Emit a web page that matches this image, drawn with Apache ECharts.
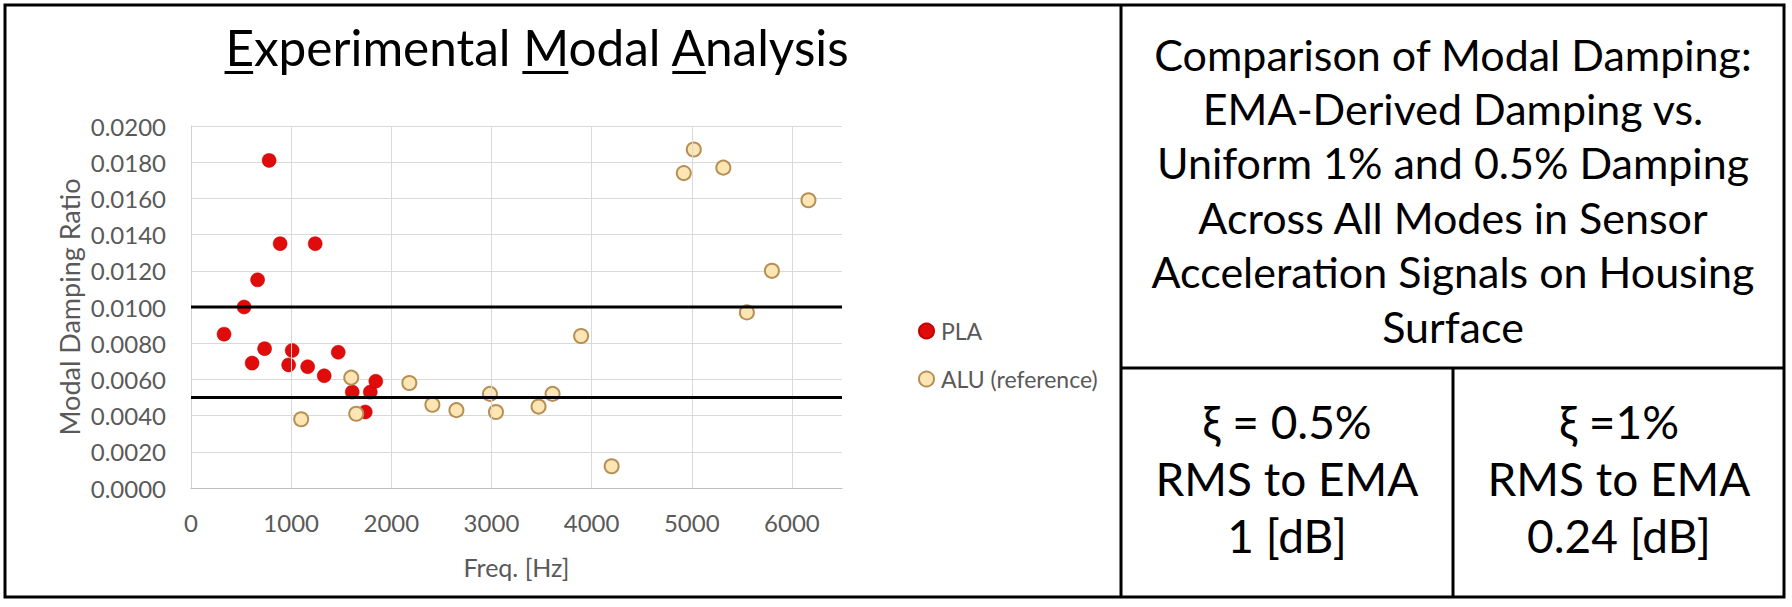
<!DOCTYPE html>
<html><head><meta charset="utf-8">
<script src="https://cdn.jsdelivr.net/npm/echarts@6/dist/echarts.min.js"></script>
<style>html,body{margin:0;padding:0;background:#fff;}#c{width:1792px;height:607px;}</style>
</head><body><div id="c"></div>
<script>
// ---- data ----
const plaFreq = [330, 530, 610, 665, 735, 780, 890, 975, 1010, 1165, 1240, 1330, 1470, 1610, 1740, 1790, 1845];
const plaDamp = [0.0085, 0.0100, 0.0069, 0.0115, 0.0077, 0.0181, 0.0135, 0.0068, 0.0076, 0.0067, 0.0135, 0.0062, 0.0075, 0.0053, 0.0042, 0.0053, 0.0059];
const aluFreq = [1100, 1600, 1650, 2180, 2410, 2650, 2985, 3045, 3470, 3610, 3895, 4200, 4920, 5020, 5315, 5550, 5800, 6165];
const aluDamp = [0.0038, 0.0061, 0.0041, 0.0058, 0.0046, 0.0043, 0.0052, 0.0042, 0.0045, 0.0052, 0.0084, 0.0012, 0.0174, 0.0187, 0.0177, 0.0097, 0.0120, 0.0159];
const xTicks = [0, 1000, 2000, 3000, 4000, 5000, 6000];
const xRange = [0, 6500];
const refDamping = [0.010, 0.005];
const seriesNames = ['PLA', 'ALU (reference)'];
const chartTitle = 'Experimental Modal Analysis';
const underlinedWords = ['Experimental', 'Modal', 'Analysis'];
const panelLines = ['Comparison of Modal Damping:', 'EMA-Derived Damping vs.', 'Uniform 1% and 0.5% Damping', 'Across All Modes in Sensor', 'Acceleration Signals on Housing', 'Surface'];
const cellLeft = ['\u03BE = 0.5%', 'RMS to EMA', '1 [dB]'];
const cellRight = ['\u03BE =1%', 'RMS to EMA', '0.24 [dB]'];

// ---- helpers ----
const FONT = 'Lato';
const mctx = document.createElement('canvas').getContext('2d');
function textW(t, size) { mctx.font = size + 'px ' + FONT; return mctx.measureText(t).width; }

const titleSize = 49.5;
const titleCx = 537, titleBase = 66;
const titleW = textW(chartTitle, titleSize);
const titleLeft = titleCx - titleW / 2;
const underlines = [];
let idx = 0;
underlinedWords.forEach(w => {
  const pos = chartTitle.indexOf(w, idx);
  const x0 = titleLeft + textW(chartTitle.slice(0, pos), titleSize);
  const wd = textW(chartTitle[pos], titleSize);
  underlines.push({ type: 'rect', shape: { x: x0, y: titleBase + 5, width: wd, height: 3 }, style: { fill: '#000' }, silent: true });
  idx = pos + w.length;
});

const chart = echarts.init(document.getElementById('c'), null, { renderer: 'svg' });
const axisText = { color: '#595959', fontFamily: FONT, fontSize: 24 };

const refSeries = refDamping.map((v, i) => ({
  name: 'ref' + i, type: 'line', silent: true, z: 5, symbol: 'none',
  lineStyle: { color: '#000', width: 3 },
  emphasis: { disabled: true },
  data: xRange.map(x => [x, v])
}));

chart.setOption({
  animation: false,
  backgroundColor: '#fff',
  grid: { left: 191, top: 126, width: 651, height: 362 },
  xAxis: {
    type: 'value', min: xRange[0], max: xRange[1], interval: 1000,
    axisLine: { show: true, lineStyle: { color: '#bfbfbf', width: 1 } },
    axisTick: { show: false },
    splitLine: { show: false },
    axisLabel: Object.assign({ margin: 22, formatter: v => (xTicks.indexOf(v) >= 0 ? String(v) : '') }, axisText),
    name: 'Freq. [Hz]', nameLocation: 'middle', nameGap: 66,
    nameTextStyle: Object.assign({}, axisText, { fontSize: 25 })
  },
  yAxis: {
    type: 'value', min: 0, max: 0.02, interval: 0.002,
    axisLine: { show: true, lineStyle: { color: '#d0d0d0', width: 1 } },
    axisTick: { show: false },
    splitLine: { show: true, lineStyle: { color: '#d9d9d9', width: 1 } },
    axisLabel: Object.assign({ margin: 25, formatter: v => v.toFixed(4) }, axisText),
    name: 'Modal Damping Ratio', nameLocation: 'middle', nameGap: 108, nameRotate: 90,
    nameTextStyle: Object.assign({}, axisText, { fontSize: 27 })
  },
  legend: {
    orient: 'vertical', left: 913, top: 313, itemWidth: 15, itemHeight: 15, itemGap: 22,
    data: seriesNames.map(n => ({ name: n, icon: 'circle' })),
    textStyle: { color: '#595959', fontFamily: FONT, fontSize: 23, lineHeight: 26, padding: [0, 0, 0, 2] }
  },
  series: [
    {
      name: 'vgrid', type: 'scatter', data: [], silent: true, z: 1,
      markLine: {
        silent: true, symbol: 'none', label: { show: false }, animation: false,
        lineStyle: { color: '#d9d9d9', width: 1, type: 'solid' },
        emphasis: { disabled: true },
        data: xTicks.filter(v => v > 0).map(v => ({ xAxis: v }))
      }
    },
    {
      name: seriesNames[0], type: 'scatter', symbol: 'circle', symbolSize: 14, z: 3,
      itemStyle: { color: '#e00b0b', borderColor: '#c40000', borderWidth: 0.5, opacity: 1 },
      data: plaFreq.map((f, i) => [f, plaDamp[i]])
    },
    {
      name: seriesNames[1], type: 'scatter', symbol: 'circle', symbolSize: 14, z: 3,
      itemStyle: { color: '#fee6b4', borderColor: '#b58f55', borderWidth: 2, opacity: 1 },
      data: aluFreq.map((f, i) => [f, aluDamp[i]])
    },
    ...refSeries
  ],
  graphic: [
    { type: 'rect', shape: { x: 5, y: 5, width: 1779, height: 592 }, style: { fill: 'none', stroke: '#000', lineWidth: 3 }, silent: true },
    { type: 'line', shape: { x1: 1121, y1: 5, x2: 1121, y2: 597 }, style: { stroke: '#000', lineWidth: 3 }, silent: true },
    { type: 'line', shape: { x1: 1121, y1: 368, x2: 1784, y2: 368 }, style: { stroke: '#000', lineWidth: 3 }, silent: true },
    { type: 'line', shape: { x1: 1453, y1: 368, x2: 1453, y2: 597 }, style: { stroke: '#000', lineWidth: 3 }, silent: true },
    { type: 'text', x: titleCx, y: titleBase - 0.387 * titleSize, silent: true,
      style: { text: chartTitle, fill: '#000', fontFamily: FONT, fontSize: titleSize, align: 'center', verticalAlign: 'middle' } },
    ...underlines,
    { type: 'text', x: 1453, y: 190, silent: true,
      style: { text: panelLines.join('\n'), fill: '#000', fontFamily: FONT, fontSize: 43, lineHeight: 54.4, align: 'center', verticalAlign: 'middle' } },
    { type: 'text', x: 1287, y: 478, silent: true,
      style: { text: cellLeft.join('\n'), fill: '#000', fontFamily: FONT, fontSize: 46, lineHeight: 57, align: 'center', verticalAlign: 'middle' } },
    { type: 'text', x: 1619, y: 478, silent: true,
      style: { text: cellRight.join('\n'), fill: '#000', fontFamily: FONT, fontSize: 46, lineHeight: 57, align: 'center', verticalAlign: 'middle' } }
  ]
});
</script></body></html>
